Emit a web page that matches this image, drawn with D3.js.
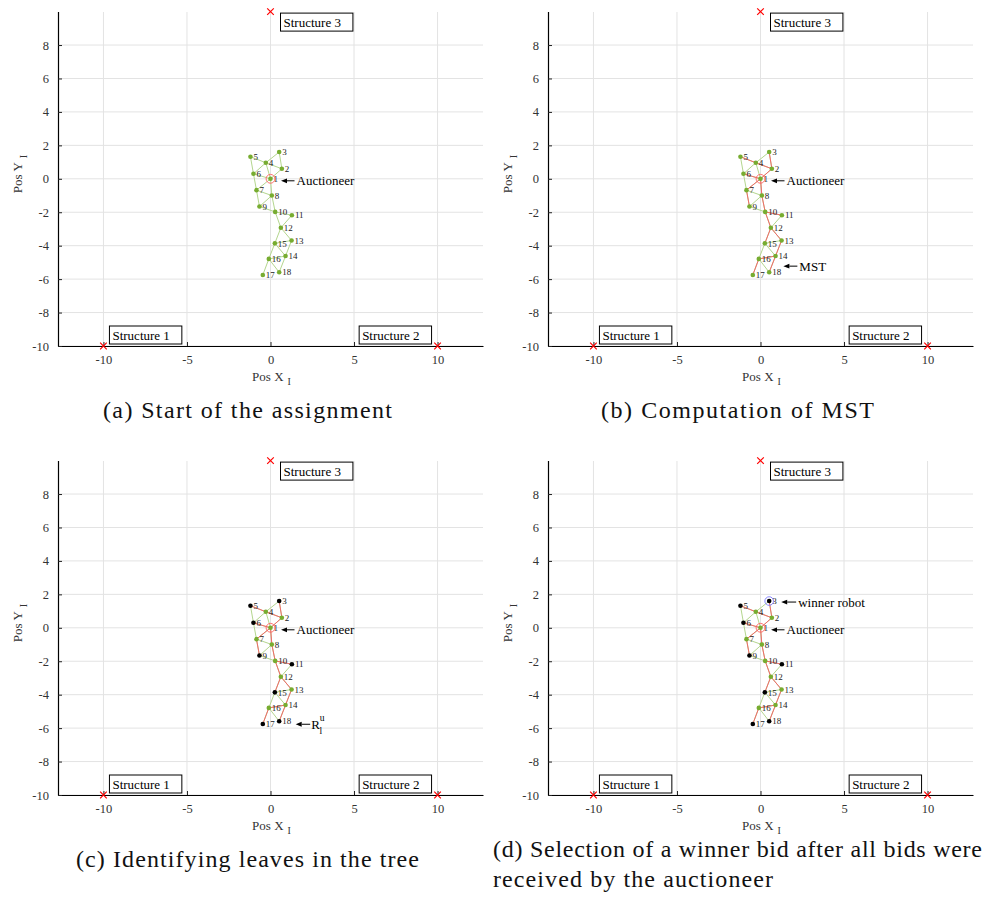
<!DOCTYPE html>
<html>
<head>
<meta charset="utf-8">
<script src="https://cdn.jsdelivr.net/npm/d3@7/dist/d3.min.js"></script>
<style>
  html, body { margin: 0; padding: 0; background: #fff; }
  svg { display: block; }
  text { font-family: "Liberation Serif", "Times New Roman", serif; }
</style>
</head>
<body>
<svg id="fig" width="984" height="905"></svg>
<script>
// Robot positions (world frame, metres)
const robotIds = [1, 2, 3, 4, 5, 6, 7, 8, 9, 10, 11, 12, 13, 14, 15, 16, 17, 18];
const robotX = [0.00, 0.68, 0.52, -0.28, -1.20, -1.02, -0.84, 0.08, -0.66, 0.28, 1.28, 0.62, 1.26, 0.90, 0.26, -0.10, -0.46, 0.52];
const robotY = [0.00, 0.60, 1.60, 0.96, 1.32, 0.30, -0.68, -1.00, -1.66, -1.98, -2.18, -2.93, -3.69, -4.62, -3.86, -4.79, -5.75, -5.59];

// Communication graph between robots
const commEdges = [
  [1, 2], [1, 4], [1, 6], [1, 7], [1, 8], [2, 3], [2, 4], [3, 4], [4, 5], [4, 6],
  [5, 6], [6, 7], [7, 8], [7, 9], [8, 9], [8, 10], [9, 10], [10, 11], [10, 12],
  [11, 12], [12, 13], [12, 15], [13, 15], [13, 14], [14, 15], [14, 16], [15, 16],
  [16, 17], [16, 18], [14, 18]
];

// Minimum spanning tree rooted at the auctioneer
const mstEdges = [
  [4, 5], [2, 4], [2, 3], [1, 2], [1, 6], [1, 7], [1, 8], [7, 9], [8, 10],
  [10, 11], [10, 12], [12, 13], [12, 15], [13, 14], [14, 16], [16, 17], [14, 18]
];

const leafRobots = [3, 5, 6, 9, 11, 15, 17, 18];
const auctioneerId = 1;
const winnerId = 3;

// Structures to be assembled
const structureNames = ["Structure 1", "Structure 2", "Structure 3"];
const structureX = [-10, 10, 0];
const structureY = [-10, -10, 10];

// Axis ticks
const xTicks = [-10, -5, 0, 5, 10];
const yTicks = [-10, -8, -6, -4, -2, 0, 2, 4, 6, 8];

// Sub-figure captions (one entry per line)
const captions = [
  ["(a) Start of the assignment"],
  ["(b) Computation of MST"],
  ["(c) Identifying leaves in the tree"],
  ["(d) Selection of a winner bid after all bids were", "received by the auctioneer"]
];

const robots = robotIds.map((id, i) => ({ id, x: robotX[i], y: robotY[i] }));
const byId = new Map(robots.map(r => [r.id, r]));

const svg = d3.select("#fig");

const GREEN = "#77ac30";
const EDGE_GREEN = "#b4d68e";
const EDGE_RED = "#f26a6a";

const plot = { left: 58, top: 12, width: 425, height: 334 };
const x = d3.scaleLinear().domain([-12.72, 12.72]).range([plot.left, plot.left + plot.width]);
const y = d3.scaleLinear().domain([-10, 10]).range([plot.top + plot.height, plot.top - 0.4]);

const panels = [
  { dx: 0,   dy: 0,   mst: false, leaves: false, winner: false, note: "none" },
  { dx: 490, dy: 0,   mst: true,  leaves: false, winner: false, note: "mst" },
  { dx: 0,   dy: 449, mst: true,  leaves: true,  winner: false, note: "leaf" },
  { dx: 490, dy: 449, mst: true,  leaves: true,  winner: true,  note: "winner" }
];

// caption line widths (px), stretched with text spacing
const captionWidths = [[289], [273], [343], [489, 280]];

function arrow(g, x1, y1, x2, y2) {
  // line from (x1,y1) to tip (x2,y2) with filled head
  const ang = Math.atan2(y2 - y1, x2 - x1);
  const L = 6, W = 2.4;
  const bx = x2 - L * Math.cos(ang), by = y2 - L * Math.sin(ang);
  g.append("line").attr("x1", x1).attr("y1", y1).attr("x2", bx).attr("y2", by)
    .attr("stroke", "#000").attr("stroke-width", 1);
  const px = -Math.sin(ang) * W, py = Math.cos(ang) * W;
  g.append("path")
    .attr("d", `M${x2},${y2}L${bx + px},${by + py}L${bx - px},${by - py}Z`)
    .attr("fill", "#000");
}

panels.forEach((p, pi) => {
  const g = svg.append("g").attr("transform", `translate(${p.dx},${p.dy})`);

  // grid
  g.append("g").selectAll("line").data(xTicks).join("line")
    .attr("x1", d => x(d)).attr("x2", d => x(d))
    .attr("y1", plot.top).attr("y2", plot.top + plot.height)
    .attr("stroke", "#e3e3e3").attr("stroke-width", 1);
  g.append("g").selectAll("line").data(yTicks).join("line")
    .attr("x1", plot.left).attr("x2", plot.left + plot.width)
    .attr("y1", d => y(d)).attr("y2", d => y(d))
    .attr("stroke", "#e3e3e3").attr("stroke-width", 1);

  // axes
  const xAxis = d3.axisBottom(x).tickValues(xTicks).tickSizeInner(-4).tickSizeOuter(0)
    .tickPadding(9).tickFormat(d => String(d));
  const gx = g.append("g").attr("transform", `translate(0,${plot.top + plot.height})`).call(xAxis);
  const yAxis = d3.axisLeft(y).tickValues(yTicks).tickSizeInner(-4).tickSizeOuter(0)
    .tickPadding(9).tickFormat(d => String(d));
  const gy = g.append("g").attr("transform", `translate(${plot.left},0)`).call(yAxis);
  [gx, gy].forEach(a => {
    a.select(".domain").attr("stroke", "#000").attr("stroke-width", 1.2);
    a.selectAll(".tick line").attr("stroke", "#222");
    a.selectAll(".tick text").attr("fill", "#333").attr("font-size", 12.5)
      .attr("font-family", "Liberation Serif, serif");
  });

  // axis titles
  const xt = g.append("text").attr("x", plot.left + plot.width / 2 + 1).attr("y", 381)
    .attr("text-anchor", "middle").attr("font-size", 13).attr("fill", "#333");
  xt.append("tspan").text("Pos X");
  xt.append("tspan").attr("dx", 4).attr("dy", 4).attr("font-size", 10).text("I");
  const yt = g.append("text").attr("transform", `translate(22,${plot.top + plot.height / 2 - 5}) rotate(-90)`)
    .attr("text-anchor", "middle").attr("font-size", 13).attr("fill", "#333");
  yt.append("tspan").text("Pos Y");
  yt.append("tspan").attr("dx", 4).attr("dy", 5).attr("font-size", 10).text("I");

  // communication edges
  g.append("g").selectAll("line").data(commEdges).join("line")
    .attr("x1", d => x(byId.get(d[0]).x)).attr("y1", d => y(byId.get(d[0]).y))
    .attr("x2", d => x(byId.get(d[1]).x)).attr("y2", d => y(byId.get(d[1]).y))
    .attr("stroke", EDGE_GREEN).attr("stroke-width", 1);

  // spanning tree
  if (p.mst) {
    g.append("g").selectAll("line").data(mstEdges).join("line")
      .attr("x1", d => x(byId.get(d[0]).x)).attr("y1", d => y(byId.get(d[0]).y))
      .attr("x2", d => x(byId.get(d[1]).x)).attr("y2", d => y(byId.get(d[1]).y))
      .attr("stroke", EDGE_RED).attr("stroke-width", 1);
  }

  // structures
  structureNames.forEach((name, i) => {
    const mx = x(structureX[i]), my = y(structureY[i]);
    const t = g.append("text").attr("font-size", 13).attr("fill", "#000").text(name);
    const tw = t.node().getComputedTextLength();
    const bw = tw + 15, bh = 18;
    let bx, by;
    if (i === 0) { bx = mx + 6; by = my - 2 - bh; }
    else if (i === 1) { bx = mx - 6 - bw; by = my - 2 - bh; }
    else { bx = mx + 10; by = my + 1.5; }
    g.insert("rect", () => t.node())
      .attr("x", bx).attr("y", by).attr("width", bw).attr("height", bh)
      .attr("fill", "#fff").attr("stroke", "#000").attr("stroke-width", 1);
    t.attr("x", bx + 3).attr("y", by + bh - 4.5);
    const s = 3.3;
    g.append("path").attr("d", `M${mx - s},${my - s}L${mx + s},${my + s}M${mx - s},${my + s}L${mx + s},${my - s}`)
      .attr("stroke", "#ff0000").attr("stroke-width", 1.2);
  });

  // robots
  const leafSet = new Set(p.leaves ? leafRobots : []);
  g.append("g").selectAll("circle").data(robots).join("circle")
    .attr("cx", d => x(d.x)).attr("cy", d => y(d.y)).attr("r", 2.3)
    .attr("fill", d => leafSet.has(d.id) ? "#000" : GREEN);
  g.append("g").selectAll("text").data(robots).join("text")
    .attr("x", d => x(d.x) + 3).attr("y", d => y(d.y) + 3.2)
    .attr("font-size", 9).attr("fill", "#222").text(d => d.id);

  // auctioneer marker
  const a = byId.get(auctioneerId);
  g.append("circle").attr("cx", x(a.x)).attr("cy", y(a.y)).attr("r", 4.4)
    .attr("fill", "none").attr("stroke", "#ff6060").attr("stroke-width", 0.9);
  arrow(g, x(a.x) + 24, y(a.y) + 2, x(a.x) + 10.5, y(a.y) + 2);
  g.append("text").attr("x", x(a.x) + 26).attr("y", y(a.y) + 6.5)
    .attr("font-size", 13).attr("fill", "#000").text("Auctioneer");

  if (p.winner) {
    const w = byId.get(winnerId);
    g.append("circle").attr("cx", x(w.x)).attr("cy", y(w.y)).attr("r", 4.3)
      .attr("fill", "none").attr("stroke", "#7b7bff").attr("stroke-width", 0.9);
    arrow(g, x(w.x) + 27, y(w.y) + 1, x(w.x) + 12, y(w.y) + 1);
    g.append("text").attr("x", x(w.x) + 29).attr("y", y(w.y) + 5.5)
      .attr("font-size", 13).attr("fill", "#000").text("winner robot");
  }

  if (p.note === "mst") {
    const r14 = byId.get(14), r18 = byId.get(18);
    const mx = (x(r14.x) + x(r18.x)) / 2, my = (y(r14.y) + y(r18.y)) / 2;
    arrow(g, mx + 25, my + 2, mx + 11, my + 2);
    g.append("text").attr("x", mx + 27).attr("y", my + 6.5)
      .attr("font-size", 13).attr("fill", "#000").text("MST");
  }

  if (p.note === "leaf") {
    const r = byId.get(18);
    arrow(g, x(r.x) + 31, y(r.y) + 3, x(r.x) + 16.5, y(r.y) + 3);
    const t = g.append("text").attr("x", x(r.x) + 32).attr("y", y(r.y) + 7.5)
      .attr("font-size", 13).attr("fill", "#000");
    t.append("tspan").text("R");
    t.append("tspan").attr("dy", -8).attr("font-size", 9.5).text("u");
    t.append("tspan").attr("dx", -5).attr("dy", 13).attr("font-size", 9.5).text("l");
  }

  // caption
  const lines = captions[pi];
  const widths = captionWidths[pi];
  if (lines.length === 1) {
    g.append("text").attr("x", plot.left + plot.width / 2 - 23).attr("y", 418)
      .attr("text-anchor", "middle").attr("font-size", 24).attr("fill", "#111")
      .attr("textLength", widths[0]).attr("lengthAdjust", "spacing").text(lines[0]);
  } else {
    lines.forEach((ln, k) => {
      g.append("text").attr("x", 3).attr("y", 408 + k * 30)
        .attr("font-size", 24).attr("fill", "#111")
        .attr("textLength", widths[k]).attr("lengthAdjust", "spacing").text(ln);
    });
  }
});
</script>
</body>
</html>
